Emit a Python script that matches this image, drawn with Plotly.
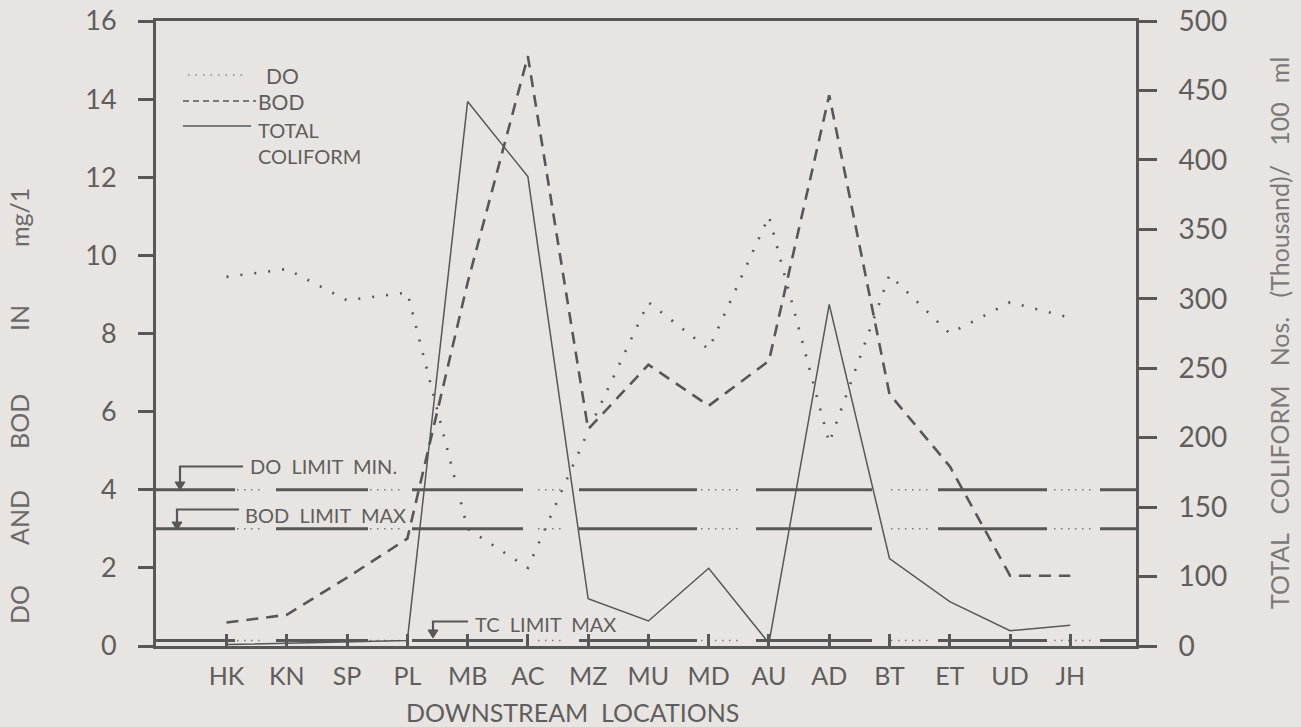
import plotly.graph_objects as go

# ---------------- data ----------------
locations = ["HK", "KN", "SP", "PL", "MB", "AC", "MZ", "MU", "MD", "AU",
             "AD", "BT", "ET", "UD", "JH"]
do_mg_l = [9.45, 9.65, 8.85, 9.05, 3.0, 2.0, 5.5, 8.8, 7.6, 11.0,
           5.2, 9.5, 8.0, 8.8, 8.4]
bod_mg_l = [0.6, 0.8, 1.75, 2.75, 9.3, 15.1, 5.55, 7.2, 6.15, 7.3,
            14.1, 6.45, 4.6, 1.8, 1.8]
# total coliform on the right axis (axis as printed: its lowest tick is labelled "0")
total_coliform = [51, 52, 52.5, 54, 442, 388, 84, 68, 106, 52,
                  296, 113, 82, 61, 65]

do_limit_min = 4
bod_limit_max = 3
tc_limit_max = 54

left_ticks = [0, 2, 4, 6, 8, 10, 12, 14, 16]
right_tick_vals = [50, 100, 150, 200, 250, 300, 350, 400, 450, 500]
right_tick_text = ["0", "100", "150", "200", "250", "300", "350", "400", "450", "500"]

# ---------------- style ----------------
W, H = 1301, 727
L, R, T, B = 156, 1136, 21, 646          # plot area in pixels
BG = "#e8e4e1"
INK = "#575757"
TXT = "#5e5e5e"
FONT = "Lato"


def px(x):
    return (x - L) / (R - L)


def py(y):
    return (B - y) / (B - T)


def dash(vals):
    return ",".join(f"{v:g}px" for v in vals)


# broken pattern of the printed limit lines: long solid pieces ...
solid_pattern = dash([79, 41, 92, 44, 111, 56, 118, 59, 116, 66, 109, 53, 36, 300])


# ... with short dotted pieces in some of the gaps
def dotted_pattern(segs, step=7.0, dot=1.5):
    arr, pos = [], 0.0
    for a, b in segs:
        gap = a - pos
        if arr:
            arr[-1] += gap
        else:
            arr += [0, gap]
        n = int((b - a) // step) + 1
        for _ in range(n):
            arr += [dot, step - dot]
        pos = a + n * step
    arr[-1] += 400
    return dash(arr)


dots_pattern = dotted_pattern([(81, 104), (214, 246), (382, 407), (545, 582),
                               (735, 771), (898, 933)])

fig = go.Figure()
fig.add_trace(go.Scatter(x=locations, y=do_mg_l, mode="lines", name="DO",
                         line=dict(color=INK, width=2.6, dash="2px,12px")))
fig.add_trace(go.Scatter(x=locations, y=bod_mg_l, mode="lines", name="BOD",
                         line=dict(color=INK, width=2.6, dash="12px,8px")))
fig.add_trace(go.Scatter(x=locations, y=total_coliform, mode="lines",
                         name="TOTAL COLIFORM", yaxis="y2",
                         line=dict(color=INK, width=1.5)))

shapes = []
# limit lines
for val, yref in [(do_limit_min, "y"), (bod_limit_max, "y"), (tc_limit_max, "y2")]:
    shapes.append(dict(type="line", xref="paper", yref=yref, x0=0, x1=1, y0=val, y1=val,
                       line=dict(color="#7a7a7a", width=1.6, dash=dots_pattern), layer="below"))
    shapes.append(dict(type="line", xref="paper", yref=yref, x0=0, x1=1, y0=val, y1=val,
                       line=dict(color=INK, width=3, dash=solid_pattern), layer="below"))

# legend samples
shapes.append(dict(type="line", xref="paper", yref="paper", x0=px(188), x1=px(248),
                   y0=py(75), y1=py(75), line=dict(color="#8a8a8a", width=1.6, dash="1.5px,6px")))
shapes.append(dict(type="line", xref="paper", yref="paper", x0=px(183), x1=px(256),
                   y0=py(101), y1=py(101), line=dict(color=INK, width=1.6, dash="6px,4px")))
shapes.append(dict(type="line", xref="paper", yref="paper", x0=px(183), x1=px(251),
                   y0=py(126), y1=py(126), line=dict(color=INK, width=1.6)))


# elbow arrows for the limit labels
def elbow(x_start, x_corner, y_h, y_tip):
    shapes.append(dict(type="path", xref="paper", yref="paper",
                       path=f"M{px(x_start)},{py(y_h)} L{px(x_corner)},{py(y_h)} L{px(x_corner)},{py(y_tip - 7)}",
                       line=dict(color=INK, width=2.2)))
    shapes.append(dict(type="path", xref="paper", yref="paper",
                       path=f"M{px(x_corner - 5)},{py(y_tip - 8)} L{px(x_corner + 5)},{py(y_tip - 8)} L{px(x_corner)},{py(y_tip)} Z",
                       line=dict(color=INK, width=1), fillcolor=INK))


elbow(243, 180, 466.5, 490)
elbow(239, 177, 509.5, 530)
elbow(468, 433, 621.5, 638)

annotations = []


def text(s, x, y, size, anchor="left", angle=0, color=TXT):
    annotations.append(dict(text=s, x=px(x), y=py(y), xref="paper", yref="paper",
                            xanchor=anchor, yanchor="middle", showarrow=False,
                            textangle=angle, font=dict(family=FONT, size=size, color=color)))


# legend text
text("DO", 264, 75, 21)
text("BOD", 256, 101, 21)
annotations.append(dict(text="TOTAL<br>COLIFORM", x=px(256), y=py(143), xref="paper", yref="paper",
                        xanchor="left", yanchor="middle", align="left", showarrow=False,
                        font=dict(family=FONT, size=20, color=TXT)))
# limit labels
text("DO  LIMIT  MIN.", 248, 466, 20)
text("BOD  LIMIT  MAX", 243, 515, 20)
text("TC  LIMIT  MAX", 473, 624, 20)
# axis titles
text("DOWNSTREAM  LOCATIONS", 572, 712, 25, anchor="center")
TITLE_C = "#6a6a6a"
for word, yc in [("DO", 605), ("AND", 518), ("BOD", 422), ("IN", 318), ("mg/1", 218)]:
    text(word, 19, yc, 25, anchor="center", angle=-90, color=TITLE_C)
text("TOTAL   COLIFORM   Nos.   (Thousand)/   100   ml", 1279, 333, 25,
     anchor="center", angle=-90, color="#7a7a7a")

fig.update_layout(
    width=W, height=H,
    margin=dict(l=L, r=W - R, t=T, b=H - B, pad=0, autoexpand=False),
    paper_bgcolor=BG, plot_bgcolor=BG,
    showlegend=False,
    font=dict(family=FONT, color=TXT),
    xaxis=dict(type="category", range=[-1.17, 15.09], showgrid=False, zeroline=False,
               showline=True, linecolor=INK, linewidth=3, mirror=True, automargin=False,
               ticks="inside", ticklen=12, tickwidth=2.5, tickcolor=INK,
               tickfont=dict(family=FONT, size=25, color=TXT), ticklabelstandoff=6),
    yaxis=dict(range=[0, 16], tickvals=left_ticks, showgrid=False, zeroline=False,
               showline=True, linecolor=INK, linewidth=3, automargin=False,
               ticks="outside", ticklen=15, tickwidth=3, tickcolor=INK,
               tickfont=dict(family=FONT, size=27, color=TXT), ticklabelstandoff=16),
    yaxis2=dict(range=[50, 500], overlaying="y", side="right", automargin=False,
                tickvals=right_tick_vals, ticktext=right_tick_text,
                showgrid=False, zeroline=False, showline=True, linecolor=INK, linewidth=3,
                ticks="outside", ticklen=18, tickwidth=3, tickcolor=INK,
                tickfont=dict(family=FONT, size=28, color=TXT), ticklabelstandoff=16),
    shapes=shapes,
    annotations=annotations,
)

fig.write_html("out.html")
